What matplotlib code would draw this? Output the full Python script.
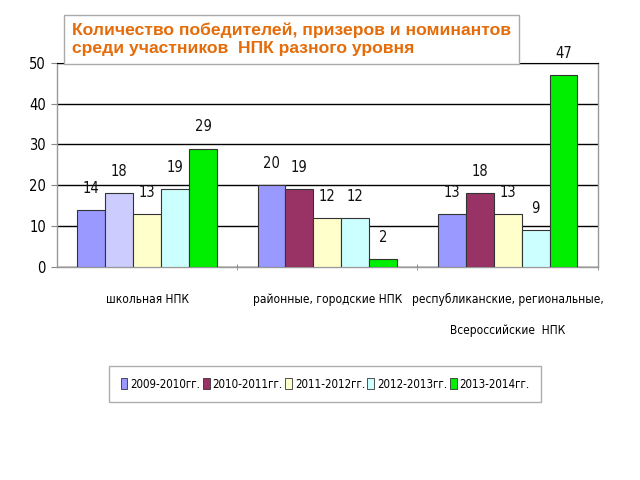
import matplotlib
matplotlib.use("Agg")
import matplotlib.pyplot as plt
from matplotlib.patches import Patch
import numpy as np

categories = ["школьная НПК", "районные, городские НПК",
              "республиканские, региональные,\nВсероссийские  НПК"]
seasons = ["2009-2010гг.", "2010-2011гг.", "2011-2012гг.", "2012-2013гг.", "2013-2014гг."]
values = {
    "2009-2010гг.": [14, 20, 13],
    "2010-2011гг.": [18, 19, 18],
    "2011-2012гг.": [13, 12, 13],
    "2012-2013гг.": [19, 12, 9],
    "2013-2014гг.": [29, 2, 47],
}
colors = ["#9999FF", "#993366", "#FFFFCC", "#CCFFFF", "#00EE00"]
# the first group's 2010-2011 bar is drawn lighter in the original
first_group_colors = ["#9999FF", "#CCCCFF", "#FFFFCC", "#CCFFFF", "#00EE00"]

narrow = dict(family="DejaVu Sans", stretch="condensed")

fig = plt.figure(figsize=(6.4, 4.8), dpi=100)
ax = fig.add_axes([0.089, 0.444, 0.845, 0.425])

x = np.arange(len(categories))
width = 0.155
for i, s in enumerate(seasons):
    pos = x + (i - 2) * width
    cols = [first_group_colors[i], colors[i], colors[i]]
    bars = ax.bar(pos, values[s], width, color=cols, edgecolor="#333333",
                  linewidth=0.8, zorder=3)
    for b, v in zip(bars, values[s]):
        ax.text(b.get_x() + b.get_width() / 2, v + 5.3, str(v), ha="center",
                va="center", fontsize=10.5, color="#111111",
                clip_on=False, zorder=4, **narrow)

ax.set_xlim(-0.5, 2.5)
ax.set_ylim(0, 50)
ax.set_yticks([0, 10, 20, 30, 40, 50])
ax.set_yticklabels(["0", "10", "20", "30", "40", "50"], fontsize=10.5, **narrow)
ax.yaxis.grid(True, color="black", linewidth=1.0, zorder=0)
ax.set_axisbelow(True)
ax.tick_params(axis="y", length=4, color="#888888", pad=4)

ax.set_xticks(x)
ax.set_xticklabels(categories, fontsize=8.6, va="top",
                   multialignment="center", linespacing=2.8, **narrow)
ax.tick_params(axis="x", length=0, pad=19)
ax.set_xticks([0.5, 1.5, 2.5], minor=True)
ax.tick_params(axis="x", which="minor", length=5, color="#888888", direction="inout")

for side in ("left", "bottom", "right"):
    ax.spines[side].set_color("#999999")
    ax.spines[side].set_linewidth(1.0)
ax.spines["top"].set_color("black")

fig.text(0.113, 0.918, "Количество победителей, призеров и номинантов\nсреди участников  НПК разного уровня",
         ha="left", va="center", fontsize=12.6, fontweight="bold", color="#E46C0A",
         family=["Liberation Sans", "DejaVu Sans"], linespacing=1.25,
         bbox=dict(boxstyle="square,pad=0.45", facecolor="white", edgecolor="#AAAAAA",
                   linewidth=1.0))

handles = [Patch(facecolor=c, edgecolor="#333333", linewidth=0.6) for c in colors]
leg = fig.legend(handles, seasons, loc="center", bbox_to_anchor=(0.508, 0.2), ncol=5,
                 prop=dict(size=8.3, **narrow), handlelength=0.6,
                 handleheight=1.0, handletextpad=0.25, columnspacing=0.2,
                 fancybox=False, edgecolor="#999999", borderpad=1.0)
leg.get_frame().set_linewidth(1.0)

fig.savefig("out.png", dpi=100)
